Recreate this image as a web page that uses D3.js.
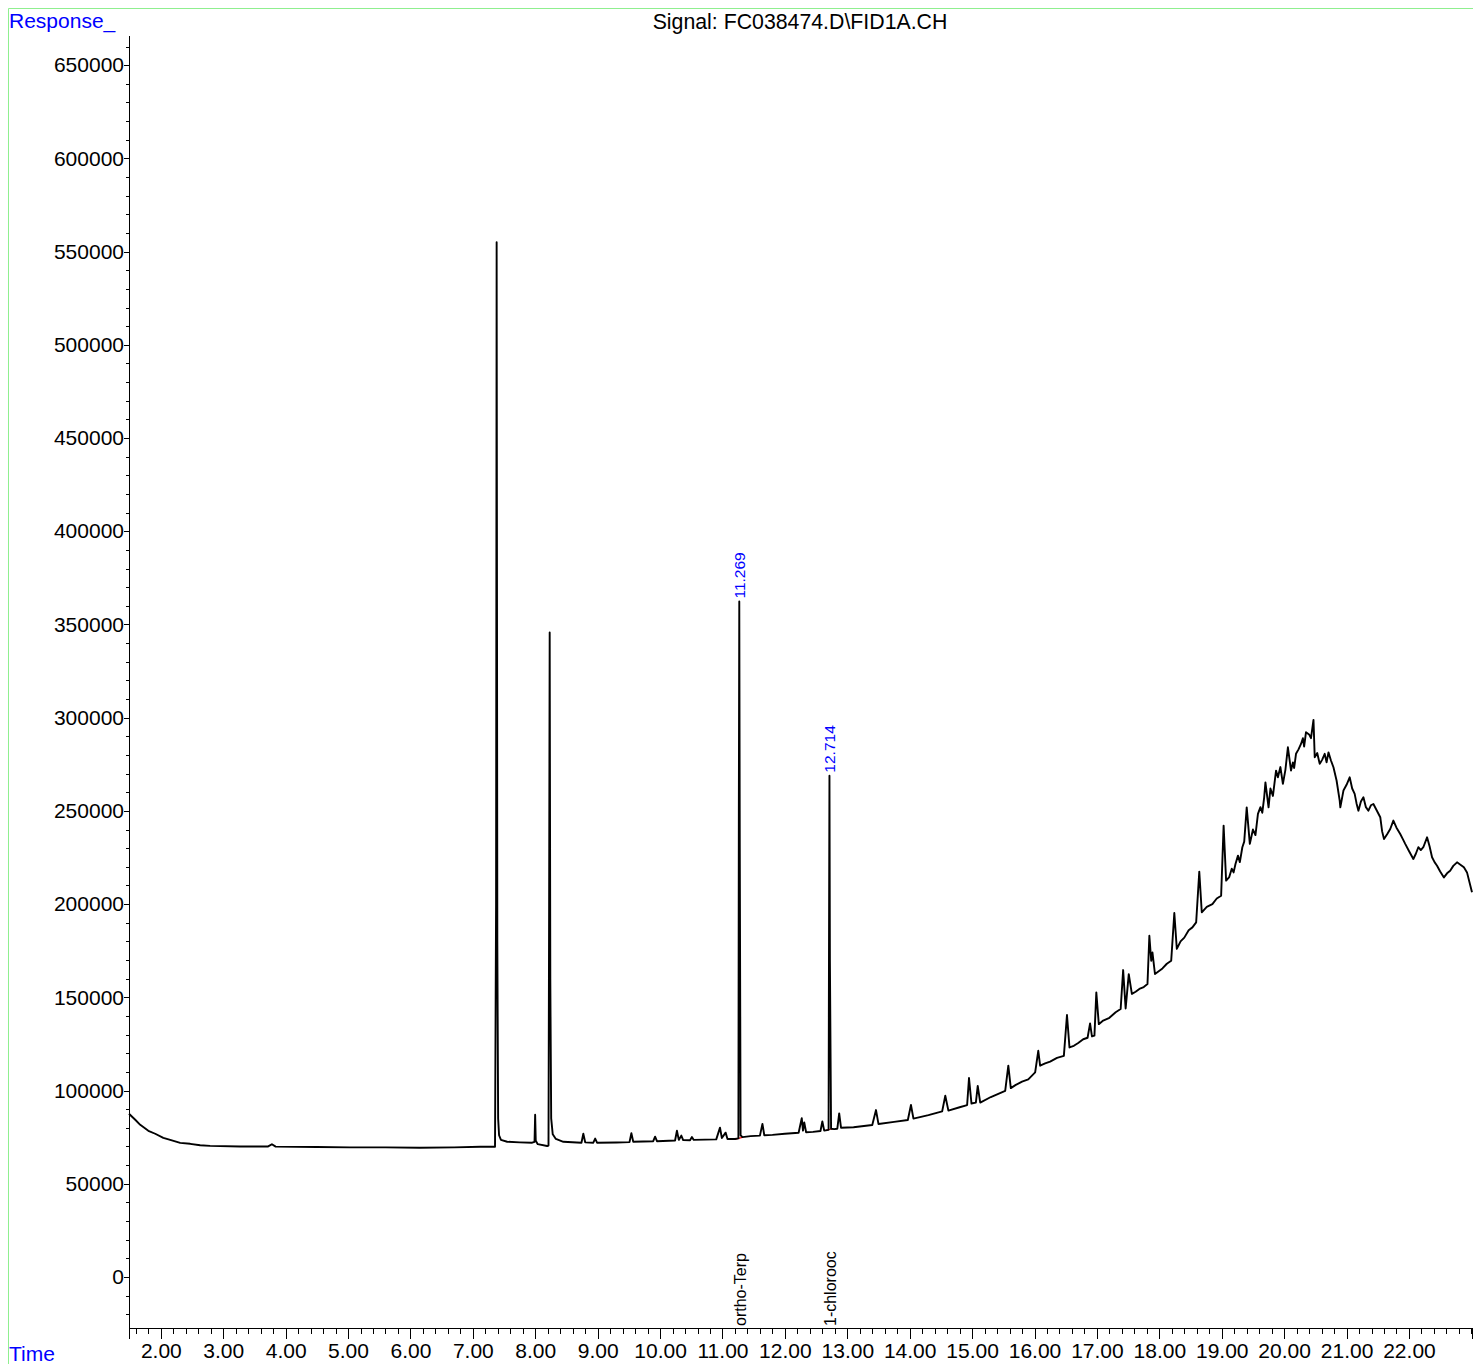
<!DOCTYPE html>
<html>
<head>
<meta charset="utf-8">
<script src="https://cdn.jsdelivr.net/npm/d3@7"></script>
<style>
  body { margin: 0; background: #fff; }
  svg { display: block; font-family: "Liberation Sans", Arial, sans-serif; }
  .axis path, .axis line { stroke: #000; shape-rendering: crispEdges; }
  .axis text { font-size: 21px; fill: #000; font-family: "Liberation Sans", Arial, sans-serif; }
</style>
</head>
<body>
<script>
// FID trace: retention time (min) / response, in three stretches
const earlyTime = [
  1.49, 1.59, 1.67, 1.80, 1.91, 2.04, 2.15, 2.31, 2.47, 2.63, 2.79, 3.27, 3.72, 3.78, 3.84,
  4.50, 5.03, 5.60, 6.15, 6.70, 7.12, 7.355, 7.372, 7.381, 7.392, 7.405, 7.42, 7.45, 7.55,
  7.75, 7.95, 7.988, 7.998, 8.008, 8.04, 8.19, 8.212, 8.222, 8.231, 8.241, 8.255, 8.28, 8.33
]
const earlyResp = [
  87500, 84300, 81600, 78400, 76800, 74600, 73500, 71900, 71400, 70600, 70300, 70000, 70000, 71200, 69900,
  69700, 69500, 69500, 69300, 69500, 69800, 69800, 200000, 555000, 180000, 85000, 76000, 73500, 72500,
  72200, 72000, 72500, 87000, 73000, 71200, 70200, 70500, 200000, 345700, 160000, 85000, 76500, 74000
]
const midTime = [
  8.45, 8.74, 8.77, 8.80, 8.93, 8.96, 8.99, 9.30, 9.51, 9.54, 9.57, 9.89, 9.92, 9.95, 10.24,
  10.27, 10.30, 10.34, 10.37, 10.48, 10.51, 10.54, 10.90, 10.96, 10.99, 11.05, 11.08, 11.20,
  11.255, 11.262, 11.269, 11.277, 11.29, 11.32, 11.45, 11.60, 11.64, 11.67, 11.80, 12.00,
  12.22, 12.27, 12.29, 12.31, 12.34, 12.45, 12.57, 12.60, 12.63, 12.70, 12.707, 12.714,
  12.721, 12.74, 12.79, 12.84, 12.87, 12.90, 13.10, 13.40, 13.46, 13.50, 13.75, 13.97, 14.02,
  14.06, 14.30, 14.52, 14.57, 14.62, 14.80, 14.92, 14.95, 14.99, 15.06, 15.09, 15.13, 15.30,
  15.53, 15.58
]
const midResp = [
  72500, 72000, 76800, 72200, 72000, 74200, 72000, 72100, 72300, 77100, 72500, 72800, 75200, 72800, 73200,
  78400, 73500, 75800, 73400, 73300, 75000, 73500, 73800, 80100, 74500, 77400, 74000, 74000,
  74300, 250000, 362300, 230000, 76000, 75000, 75500, 75800, 82100, 76000, 76200, 76800,
  77300, 85200, 78500, 82900, 77600, 77800, 78300, 83400, 78500, 78900, 180000, 268900,
  170000, 79500, 79300, 79500, 87700, 80000, 80300, 81500, 89500, 82000, 83200, 84200, 92200,
  84900, 86800, 88800, 97200, 89200, 91000, 92200, 106700, 93000, 93500, 102500, 93500, 96500,
  99800, 113300
]
const humpTime = [
  15.62, 15.70, 15.80, 15.90, 16.01, 16.06, 16.09, 16.17, 16.25, 16.36, 16.47, 16.52, 16.56, 16.63,
  16.70, 16.78, 16.85, 16.89, 16.92, 16.96, 16.99, 17.03, 17.10, 17.20, 17.30, 17.38, 17.42, 17.46,
  17.51, 17.56, 17.62, 17.68, 17.75, 17.81, 17.84, 17.87, 17.89, 17.93, 17.99, 18.05, 18.12, 18.19,
  18.24, 18.28, 18.34, 18.40, 18.47, 18.53, 18.59, 18.64, 18.68, 18.76, 18.85, 18.92, 18.99, 19.03,
  19.07, 19.12, 19.16, 19.19, 19.22, 19.26, 19.29, 19.33, 19.36, 19.40, 19.45, 19.50, 19.54, 19.58,
  19.62, 19.65, 19.68, 19.70, 19.75, 19.78, 19.82, 19.87, 19.90, 19.94, 19.98, 20.02, 20.06, 20.11,
  20.14, 20.16, 20.19, 20.23, 20.27, 20.30, 20.32, 20.35, 20.40, 20.43, 20.47, 20.49, 20.53, 20.57,
  20.61, 20.65, 20.68, 20.71, 20.75, 20.79, 20.84, 20.89, 20.90, 20.95, 21.00, 21.05, 21.09, 21.13,
  21.16, 21.19, 21.23, 21.27, 21.31, 21.35, 21.39, 21.43, 21.48, 21.54, 21.57, 21.60, 21.65, 21.70,
  21.75, 21.80, 21.86, 21.90, 21.94, 22.00, 22.07, 22.11, 22.15, 22.19, 22.23, 22.29, 22.33, 22.37,
  22.41, 22.45, 22.50, 22.56, 22.61, 22.66, 22.71, 22.77, 22.83, 22.88, 22.93, 23.01
]
const humpResp = [
  101300, 103000, 104800, 106000, 109700, 121300, 113300, 114500, 115500, 117500, 118600, 140500, 123100, 124000,
  125500, 127500, 128300, 136000, 129000, 129400, 152600, 135600, 137500, 139000, 142000, 143700, 164600, 144000,
  162400, 151800, 153000, 154500, 155500, 157100, 183000, 169600, 174000, 162500, 164000, 165500, 168000, 169600,
  195200, 176000, 180000, 182000, 186000, 187500, 190200, 217400, 195600, 198500, 200000, 203000, 204500, 242100,
  212600, 214500, 219000, 217000, 221500, 226000, 222500, 230500, 233500, 251900, 232300, 240000, 237000, 248400,
  252000, 249000, 257300, 265300, 251900, 262000, 258000, 271600, 268000, 273500, 264500, 272000, 284100, 271600,
  276000, 273000, 280600, 283000, 285900, 289000, 284500, 292200, 291000, 289000, 298800, 278800, 281000, 275200,
  277500, 280600, 276000, 281400, 277000, 273400, 266300, 255500, 251900, 260900, 264000, 268000, 262000, 259100,
  254000, 250100, 255000, 257300, 252000, 250100, 253000, 253700, 250500, 246600, 239000, 234900, 237500, 240300,
  244800, 241000, 237600, 235000, 232300, 228500, 224200, 227000, 230500, 229000, 230500, 235800, 231000, 225100,
  222500, 220600, 217500, 214300, 216500, 217900, 220500, 222400, 221000, 219700, 217000, 206300
]

// integrated peaks
const peakRT = [11.269, 12.714]
const peakApex = [362300, 268900]
const peakNames = ['ortho-Terp', '1-chlorooc']
const baseStart = [[11.19, 73800], [12.66, 78700]]
const baseEnd = [[11.32, 74900], [12.76, 79500]]

// axis ticks
const timeMajor = d3.range(2, 23, 1)
const timeMinor = d3.range(1.6, 23.01, 0.2)
const respMajor = d3.range(0, 650001, 50000)
const respMinor = d3.range(-20000, 660001, 10000)

const width = 1473, height = 1364
const x = d3.scaleLinear().domain([1.49, 23.01]).range([129, 1472])
const y = d3.scaleLinear().domain([-27400, 666200]).range([1328, 35])

const svg = d3.select('body').append('svg').attr('width', width).attr('height', height)

// green frame
svg.append('path').attr('d', `M8.5,${height} V8.5 H${width}`)
  .attr('fill', 'none').attr('stroke', '#8fef8f').attr('stroke-width', 1)

svg.append('text').attr('x', 9).attr('y', 28).attr('fill', '#0000ff')
  .style('font-size', '21px').text('Response_')
svg.append('text').attr('x', 9).attr('y', 1361).attr('fill', '#0000ff')
  .style('font-size', '21px').text('Time')
svg.append('text').attr('x', 800).attr('y', 29).attr('text-anchor', 'middle')
  .style('font-size', '21.3px').text('Signal: FC038474.D\\FID1A.CH')

// axes
svg.append('g').attr('class', 'axis').attr('transform', 'translate(0,1328)')
  .call(d3.axisBottom(x).tickValues(timeMinor).tickSize(6).tickSizeOuter(11).tickFormat(''))
svg.append('g').attr('class', 'axis').attr('transform', 'translate(0,1328)')
  .call(d3.axisBottom(x).tickValues(timeMajor).tickSize(11).tickSizeOuter(0).tickPadding(4).tickFormat(d3.format('.2f')))
  .call(g => g.select('.domain').remove())
svg.append('g').attr('class', 'axis').attr('transform', 'translate(129,0)')
  .call(d3.axisLeft(y).tickValues(respMinor).tickSize(3).tickSizeOuter(0).tickFormat(''))
svg.append('g').attr('class', 'axis').attr('transform', 'translate(129,0)')
  .call(d3.axisLeft(y).tickValues(respMajor).tickSize(5).tickSizeOuter(0).tickPadding(0).tickFormat(d3.format('d')))
  .call(g => g.select('.domain').remove())

// integration baselines
svg.append('g').selectAll('line').data(peakRT).join('line')
  .attr('x1', (d, i) => x(baseStart[i][0])).attr('y1', (d, i) => y(baseStart[i][1]))
  .attr('x2', (d, i) => x(baseEnd[i][0])).attr('y2', (d, i) => y(baseEnd[i][1]))
  .attr('stroke', '#ff0000').attr('stroke-width', 1.2)

// trace
const trace = d3.zip(
  [...earlyTime, ...midTime, ...humpTime],
  [...earlyResp, ...midResp, ...humpResp]
)
const line = d3.line().x(d => x(d[0])).y(d => y(d[1]))
svg.append('path').datum(trace)
  .attr('d', line).attr('fill', 'none').attr('stroke', '#000')
  .attr('stroke-width', 1.9).attr('stroke-linejoin', 'round')

// retention time labels
svg.append('g').selectAll('text').data(peakRT).join('text')
  .attr('transform', (d, i) => `translate(${x(d) + 6},${y(peakApex[i]) - 3}) rotate(-90)`)
  .attr('fill', '#0000ff').style('font-size', '15.5px')
  .text(d => d3.format('.3f')(d))

// compound names along the time axis
svg.append('g').selectAll('text').data(peakRT).join('text')
  .attr('transform', d => `translate(${x(d) + 7},1326) rotate(-90)`)
  .style('font-size', '16px')
  .text((d, i) => peakNames[i])
</script>
</body>
</html>
